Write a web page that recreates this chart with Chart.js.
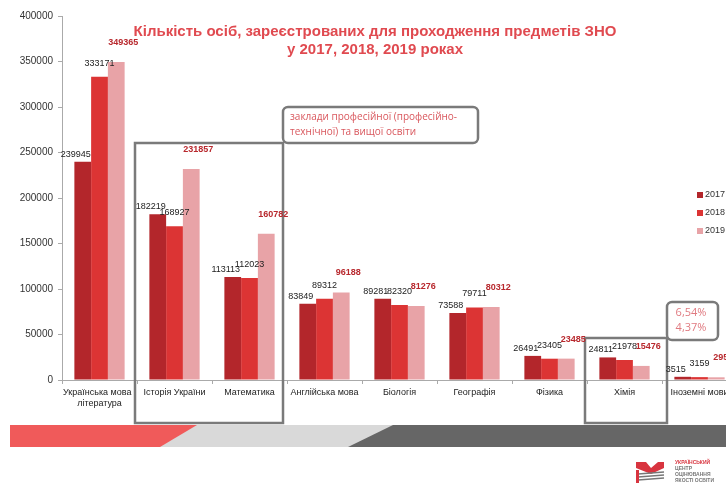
<!DOCTYPE html>
<html>
<head>
<meta charset="utf-8">
<script src="https://cdn.jsdelivr.net/npm/chart.js@4"></script>
<style>
body { margin: 0; overflow: hidden; background: #fff; }
#wrap { position: relative; width: 726px; height: 483px; overflow: hidden; }
canvas { position: absolute; left: 0; top: 0; }
</style>
</head>
<body>
<div id="wrap"><canvas id="chart" width="770" height="483"></canvas></div>
<script>
const subjects = [
    ["Українська мова і", "література"],
    "Історія України",
    "Математика",
    "Англійська мова",
    "Біологія",
    "Географія",
    "Фізика",
    "Хімія",
    "Іноземні мови"
];
const years = ["2017", "2018", "2019"];
const v2017 = [239945, 182219, 113113, 83849, 89281, 73588, 26491, 24811, 3515];
const v2018 = [333171, 168927, 112023, 89312, 82320, 79711, 23405, 21978, 3159];
const v2019 = [349365, 231857, 160782, 96188, 81276, 80312, 23485, 15476, 2958];
const yTicks = [0, 50000, 100000, 150000, 200000, 250000, 300000, 350000, 400000];

const colors = ["#b3262b", "#dc3434", "#e8a3a7"];

// decorations: title, boxes, stripes, logo, legend, value labels
const deco = {
    id: "deco",
    afterDraw(chart) {
        const ctx = chart.ctx;
        ctx.save();

        // title
        ctx.fillStyle = "#e04a50";
        ctx.font = "bold 15px 'Liberation Sans', Arial";
        ctx.textAlign = "center";
        ctx.textBaseline = "middle";
        ctx.fillText("Кількість осіб, зареєстрованих для проходження предметів ЗНО", 375, 32);
        ctx.fillText("у 2017, 2018, 2019 роках", 375, 50);

        // legend
        ctx.font = "9px 'Liberation Sans', Arial";
        ctx.textAlign = "left";
        years.forEach((yr, i) => {
            const y = 195 + i * 18;
            ctx.fillStyle = colors[i];
            ctx.fillRect(697, y - 3, 6, 6);
            ctx.fillStyle = "#333";
            ctx.fillText(yr, 705, y);
        });

        // boxes
        ctx.strokeStyle = "#7a7a7a";
        ctx.lineWidth = 2.5;
        ctx.strokeRect(135, 143, 148, 280);
        ctx.strokeRect(585, 338, 82, 85);
        ctx.beginPath();
        ctx.roundRect(283, 107, 195, 36, 5);
        ctx.stroke();
        ctx.beginPath();
        ctx.roundRect(667, 302, 51, 38, 5);
        ctx.stroke();

        ctx.fillStyle = "#d9575d";
        ctx.font = "10px 'Open Sans', 'Liberation Sans'";
        ctx.textAlign = "left";
        ctx.fillText("заклади професійної (професійно-", 290, 117);
        ctx.fillText("технічної) та вищої освіти", 290, 132);
        ctx.fillStyle = "#e07a80";
        ctx.font = "11px 'Open Sans', 'Liberation Sans'";
        ctx.textAlign = "center";
        ctx.fillText("6,54%", 691, 313);
        ctx.fillText("4,37%", 691, 328);

        // value labels, staggered so neighbours don't collide
        chart.data.datasets.forEach((ds, di) => {
            const meta = chart.getDatasetMeta(di);
            meta.data.forEach((bar, i) => {
                if (di === 2) {
                    ctx.fillStyle = "#b8282d";
                    ctx.font = "bold 9px 'Liberation Sans', Arial";
                } else {
                    ctx.fillStyle = "#222";
                    ctx.font = "9px 'Liberation Sans', Arial";
                }
                ctx.textAlign = "center";
                ctx.textBaseline = "bottom";
                const x = bar.x + (di - 1) * 7;
                const y = bar.y - 3 - di * 6;
                ctx.fillText(ds.data[i], x, y);
            });
        });

        // bottom stripes
        ctx.fillStyle = "#d9d9d9";
        ctx.fillRect(150, 425, 260, 22);
        ctx.fillStyle = "#f05a5a";
        ctx.beginPath();
        ctx.moveTo(10, 425); ctx.lineTo(197, 425); ctx.lineTo(160, 447); ctx.lineTo(10, 447);
        ctx.closePath(); ctx.fill();
        ctx.fillStyle = "#666";
        ctx.beginPath();
        ctx.moveTo(393, 425); ctx.lineTo(726, 425); ctx.lineTo(726, 447); ctx.lineTo(348, 447);
        ctx.closePath(); ctx.fill();

        // logo
        ctx.fillStyle = "#d8343f";
        ctx.beginPath();
        ctx.moveTo(636, 462); ctx.lineTo(646, 462); ctx.lineTo(651, 468); ctx.lineTo(658, 462);
        ctx.lineTo(664, 462); ctx.lineTo(664, 468); ctx.lineTo(651, 474); ctx.lineTo(636, 468);
        ctx.closePath(); ctx.fill();
        ctx.strokeStyle = "#777";
        ctx.lineWidth = 1.5;
        for (let k = 0; k < 3; k++) {
            ctx.beginPath();
            ctx.moveTo(638, 474 + k * 3);
            ctx.lineTo(664, 472 + k * 3);
            ctx.stroke();
        }
        ctx.fillRect(636, 470, 3, 13);
        ctx.font = "bold 5px 'Liberation Sans', Arial";
        ctx.textAlign = "left";
        ctx.textBaseline = "middle";
        ctx.fillStyle = "#d8343f";
        ctx.fillText("УКРАЇНСЬКИЙ", 675, 463);
        ctx.fillStyle = "#777";
        ctx.fillText("ЦЕНТР", 675, 469);
        ctx.fillText("ОЦІНЮВАННЯ", 675, 475);
        ctx.fillText("ЯКОСТІ ОСВІТИ", 675, 481);

        ctx.restore();
    }
};

new Chart(document.getElementById("chart"), {
    type: "bar",
    data: {
        labels: subjects,
        datasets: [
            { label: years[0], data: v2017, backgroundColor: colors[0] },
            { label: years[1], data: v2018, backgroundColor: colors[1] },
            { label: years[2], data: v2019, backgroundColor: colors[2] }
        ]
    },
    options: {
        responsive: false,
        animation: false,
        layout: { padding: { left: 0, top: 16, right: 33, bottom: 0 } },
        plugins: { legend: { display: false }, tooltip: { enabled: false } },
        datasets: { bar: { categoryPercentage: 0.67, barPercentage: 1 } },
        scales: {
            x: {
                grid: { drawOnChartArea: false, tickLength: 4, color: "#aaa" },
                border: { color: "#aaa" },
                ticks: { color: "#222", font: { size: 9, family: "'Liberation Sans', Arial" }, maxRotation: 0, autoSkip: false, padding: 3 },
                afterFit(scale) { scale.height = 103; }
            },
            y: {
                min: 0,
                max: 400000,
                afterBuildTicks(scale) { scale.ticks = yTicks.map(v => ({ value: v })); },
                grid: { drawOnChartArea: false, tickLength: 4, color: "#aaa" },
                border: { color: "#aaa" },
                ticks: {
                    color: "#333",
                    font: { size: 10, family: "'Liberation Sans', Arial" },
                    padding: 5,
                    callback: v => String(v)
                },
                afterFit(scale) { scale.width = 62; }
            }
        }
    },
    plugins: [deco]
});
</script>
</body>
</html>
